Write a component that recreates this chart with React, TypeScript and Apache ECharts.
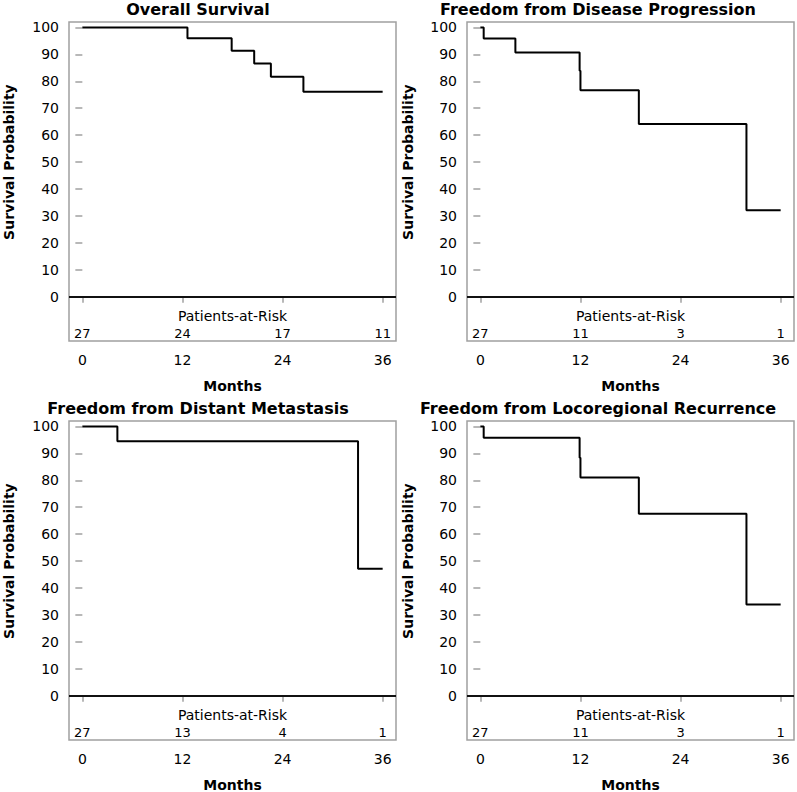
import React, { useEffect, useRef } from "react";
import * as echarts from "echarts";

const FONT = '"DejaVu Sans", sans-serif';

// Tick labels
const monthTicks = [0, 12, 24, 36];
const survTicks = [0, 10, 20, 30, 40, 50, 60, 70, 80, 90, 100];

// Panel titles
const titles = [
  "Overall Survival",
  "Freedom from Disease Progression",
  "Freedom from Distant Metastasis",
  "Freedom from Locoregional Recurrence",
];

// Overall Survival
const osTimes = [0, 12.6, 17.9, 20.6, 22.6, 26.5, 36];
const osSurv = [100, 96.0, 91.3, 86.6, 81.7, 76.1, 76.1];
const osAtRisk = [27, 24, 17, 11];

// Freedom from Disease Progression
const dpTimes = [0, 0.4, 4.2, 11.9, 12.0, 19.0, 31.9, 36];
const dpSurv = [100, 95.9, 90.7, 83.9, 76.7, 64.1, 32.1, 32.1];
const dpAtRisk = [27, 11, 3, 1];

// Freedom from Distant Metastasis
const dmTimes = [0, 4.2, 33.05, 36];
const dmSurv = [100, 94.5, 47.2, 47.2];
const dmAtRisk = [27, 13, 4, 1];

// Freedom from Locoregional Recurrence
const lrTimes = [0, 0.4, 11.9, 12.0, 19.0, 31.9, 36];
const lrSurv = [100, 95.8, 88.4, 81.0, 67.6, 33.9, 33.9];
const lrAtRisk = [27, 11, 3, 1];

const panelTimes = [osTimes, dpTimes, dmTimes, lrTimes];
const panelSurv = [osSurv, dpSurv, dmSurv, lrSurv];
const panelAtRisk = [osAtRisk, dpAtRisk, dmAtRisk, lrAtRisk];

// Axis extents (data units)
const X_MIN = -1.6;
const X_MAX = 37.6;
const Y_MIN = -16.4;
const Y_MAX = 102;
const AT_RISK_Y = -13.6;
const AT_RISK_LABEL_Y = -7.1;

const gridRects = [
  { left: 69, top: 22 },
  { left: 467, top: 22 },
  { left: 69, top: 421 },
  { left: 467, top: 421 },
];
const GW = 327;
const GH = 319;

export default function App() {
  const ref = useRef<HTMLDivElement>(null);

  useEffect(() => {
    document.body.style.margin = "0";
    if (!ref.current) return;
    const chart = echarts.init(ref.current, undefined, { renderer: "svg" });

    const grid: any[] = [];
    const xAxis: any[] = [];
    const yAxis: any[] = [];
    const series: any[] = [];
    const graphic: any[] = [];

    for (let i = 0; i < 4; i++) {
      const g = gridRects[i];
      grid.push({
        left: g.left,
        top: g.top,
        width: GW,
        height: GH,
        show: true,
        borderColor: "#a0a0a0",
        borderWidth: 1.5,
        backgroundColor: "transparent",
        containLabel: false,
        outerBoundsMode: "none",
      });
      xAxis.push({
        type: "value",
        gridIndex: i,
        min: X_MIN,
        max: X_MAX,
        axisLine: { show: false },
        splitLine: { show: false },
        axisTick: {
          show: true,
          customValues: monthTicks,
          length: 6,
          lineStyle: { color: "#a0a0a0", width: 1.5 },
        },
        axisLabel: {
          customValues: monthTicks,
          margin: 12,
          fontSize: 14,
          color: "#000",
          fontFamily: FONT,
        },
      });
      yAxis.push({
        type: "value",
        gridIndex: i,
        min: Y_MIN,
        max: Y_MAX,
        axisLine: { show: false },
        splitLine: { show: false },
        axisTick: {
          show: true,
          customValues: survTicks,
          length: 7,
          lineStyle: { color: "#a0a0a0", width: 1.5 },
        },
        axisLabel: {
          customValues: survTicks,
          margin: 10,
          fontSize: 14,
          color: "#000",
          fontFamily: FONT,
        },
      });

      const times = panelTimes[i];
      const surv = panelSurv[i];
      series.push({
        type: "line",
        xAxisIndex: i,
        yAxisIndex: i,
        step: "end",
        symbol: "none",
        silent: true,
        data: times.map((t, k) => [t, surv[k]]),
        lineStyle: { color: "#000", width: 2 },
        z: 3,
        markLine: {
          silent: true,
          symbol: ["none", "none"],
          label: { show: false },
          lineStyle: { color: "#111", width: 2, type: "solid" },
          data: [{ yAxis: 0 }],
        },
      });
      const atRisk = panelAtRisk[i];
      series.push({
        type: "scatter",
        xAxisIndex: i,
        yAxisIndex: i,
        silent: true,
        symbolSize: 0,
        itemStyle: { color: "#000" },
        data: monthTicks.map((m, k) => [m, AT_RISK_Y, atRisk[k]]),
        label: {
          show: true,
          position: "inside",
          formatter: (p: any) => String(p.value[2]),
          fontSize: 13,
          color: "#000",
          opacity: 1,
          textBorderWidth: 0,
          fontFamily: FONT,
        },
        z: 4,
      });
      series.push({
        type: "scatter",
        xAxisIndex: i,
        yAxisIndex: i,
        silent: true,
        symbolSize: 0,
        itemStyle: { color: "#000" },
        data: [[(X_MIN + X_MAX) / 2, AT_RISK_LABEL_Y]],
        label: {
          show: true,
          position: "inside",
          formatter: "Patients-at-Risk",
          fontSize: 14,
          color: "#000",
          opacity: 1,
          textBorderWidth: 0,
          fontFamily: FONT,
        },
        z: 4,
      });

      const panelLeft = i % 2 === 0 ? 0 : 400;
      const titleY = g.top - 13;
      graphic.push({
        type: "text",
        x: panelLeft + 198,
        y: titleY,
        silent: true,
        style: {
          text: titles[i],
          font: `bold 16px ${FONT}`,
          fill: "#000",
          align: "center",
          verticalAlign: "middle",
          textAlign: "center",
          textVerticalAlign: "middle",
        },
      });
      const y0 = g.top + GH * (Y_MAX - 0) / (Y_MAX - Y_MIN);
      const y100 = g.top + GH * (Y_MAX - 100) / (Y_MAX - Y_MIN);
      graphic.push({
        type: "text",
        x: panelLeft + 8.5 + (i % 2 === 0 ? 0 : -1),
        y: (y0 + y100) / 2,
        rotation: Math.PI / 2,
        silent: true,
        style: {
          text: "Survival Probability",
          font: `bold 14px ${FONT}`,
          fill: "#000",
          align: "center",
          verticalAlign: "middle",
          textAlign: "center",
          textVerticalAlign: "middle",
        },
      });
      graphic.push({
        type: "text",
        x: g.left + GW / 2,
        y: g.top + GH + 45,
        silent: true,
        style: {
          text: "Months",
          font: `bold 14px ${FONT}`,
          fill: "#000",
          align: "center",
          verticalAlign: "middle",
          textAlign: "center",
          textVerticalAlign: "middle",
        },
      });
    }

    chart.setOption({
      animation: false,
      backgroundColor: "#fff",
      grid,
      xAxis,
      yAxis,
      series,
      graphic,
    });

    return () => {
      chart.dispose();
    };
  }, []);

  return <div ref={ref} style={{ width: 797, height: 792 }} />;
}
